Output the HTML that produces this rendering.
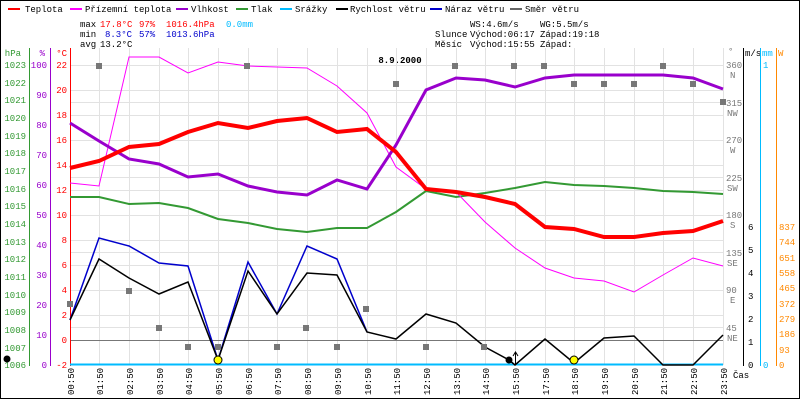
<!DOCTYPE html>
<html><head><meta charset="utf-8"><style>
html,body{margin:0;padding:0;background:#fff}
svg{display:block}
text{font-family:"Liberation Mono","DejaVu Sans Mono",monospace;font-size:9px}
</style></head><body>
<svg width="800" height="400" viewBox="0 0 800 400" xmlns="http://www.w3.org/2000/svg">
<rect x="0.5" y="0.5" width="799" height="398" fill="#fff" stroke="#000"/>
<!-- legend -->
<g>
<line x1="8" y1="9" x2="20" y2="9" stroke="#f00" stroke-width="2"/><text x="25" y="12" font-size="10">Teplota</text>
<line x1="70" y1="9" x2="82" y2="9" stroke="#f0f" stroke-width="2"/><text x="85" y="12" font-size="10">Přízemní teplota</text>
<line x1="176" y1="9" x2="188" y2="9" stroke="#90c" stroke-width="2"/><text x="191" y="12" font-size="10">Vlhkost</text>
<line x1="236" y1="9" x2="248" y2="9" stroke="#393" stroke-width="2"/><text x="251" y="12" font-size="10">Tlak</text>
<line x1="280" y1="9" x2="292" y2="9" stroke="#0bf" stroke-width="2"/><text x="295" y="12" font-size="10">Srážky</text>
<line x1="336" y1="9" x2="348" y2="9" stroke="#000" stroke-width="2"/><text x="350" y="12" font-size="10">Rychlost větru</text>
<line x1="430" y1="9" x2="442" y2="9" stroke="#00c" stroke-width="2"/><text x="445" y="12" font-size="10">Náraz větru</text>
<line x1="510" y1="9" x2="522" y2="9" stroke="#666" stroke-width="2"/><text x="525" y="12" font-size="10">Směr větru</text>
</g>
<text x="80" y="27">max</text><text x="100" y="27" fill="#f00">17.8°C</text><text x="139" y="27" fill="#f00">97%</text><text x="166" y="27" fill="#f00">1016.4hPa</text><text x="226" y="27" fill="#0bf">0.0mm</text>
<text x="80" y="37">min</text><text x="105" y="37" fill="#00c">8.3°C</text><text x="139" y="37" fill="#00c">57%</text><text x="166" y="37" fill="#00c">1013.6hPa</text>
<text x="80" y="47">avg</text><text x="100" y="47">13.2°C</text>
<text x="470" y="27">WS:4.6m/s</text><text x="540" y="27">WG:5.5m/s</text>
<text x="435" y="37">Slunce</text><text x="470" y="37">Východ:06:17</text><text x="540" y="37">Západ:19:18</text>
<text x="435" y="47">Měsíc</text><text x="470" y="47">Východ:15:55</text><text x="540" y="47">Západ:</text>
<text x="400" y="63" font-size="14" font-weight="bold" text-anchor="middle">8.9.2000</text>
<!-- grid -->
<g stroke="#e2e2e2" stroke-width="1">
<path d="M70 65.5H723M70 90.5H723M70 115.5H723M70 140.5H723M70 165.5H723M70 190.5H723M70 215.5H723M70 240.5H723M70 265.5H723M70 290.5H723M70 315.5H723M70 102.5H723M70 177.5H723M70 252.5H723M70 327.5H723"/>
<path d="M99.5 48V365M129.5 48V365M159.5 48V365M188.5 48V365M218.5 48V365M248.5 48V365M277.5 48V365M307.5 48V365M337.5 48V365M367.5 48V365M396.5 48V365M426.5 48V365M456.5 48V365M485.5 48V365M515.5 48V365M545.5 48V365M574.5 48V365M604.5 48V365M634.5 48V365M663.5 48V365M693.5 48V365M723.5 48V365"/>
</g>
<line x1="70" y1="340.5" x2="723" y2="340.5" stroke="#777"/>
<!-- left axes -->
<g>
<line x1="29.5" y1="48" x2="29.5" y2="366" stroke="#393"/>
<g fill="#393" text-anchor="end">
<text x="26" y="68">1023</text><text x="26" y="86">1022</text><text x="26" y="103">1021</text><text x="26" y="121">1020</text><text x="26" y="139">1019</text><text x="26" y="156">1018</text><text x="26" y="174">1017</text><text x="26" y="192">1016</text><text x="26" y="209">1015</text><text x="26" y="227">1014</text><text x="26" y="245">1013</text><text x="26" y="262">1012</text><text x="26" y="280">1011</text><text x="26" y="298">1010</text><text x="26" y="315">1009</text><text x="26" y="333">1008</text><text x="26" y="351">1007</text><text x="26" y="368">1006</text>
<text x="21" y="56">hPa</text></g>
<line x1="50.5" y1="48" x2="50.5" y2="366" stroke="#90c"/>
<g fill="#90c" text-anchor="end">
<text x="47" y="68">100</text><text x="47" y="98">90</text><text x="47" y="128">80</text><text x="47" y="158">70</text><text x="47" y="188">60</text><text x="47" y="218">50</text><text x="47" y="248">40</text><text x="47" y="278">30</text><text x="47" y="308">20</text><text x="47" y="338">10</text><text x="47" y="368">0</text><text x="45" y="56">%</text></g>
<line x1="70.5" y1="48" x2="70.5" y2="366" stroke="#f00"/>
<g fill="#f00" text-anchor="end">
<text x="67" y="68">22</text><text x="67" y="93">20</text><text x="67" y="118">18</text><text x="67" y="143">16</text><text x="67" y="168">14</text><text x="67" y="193">12</text><text x="67" y="218">10</text><text x="67" y="243">8</text><text x="67" y="268">6</text><text x="67" y="293">4</text><text x="67" y="318">2</text><text x="67" y="343">0</text><text x="67" y="368">-2</text><text x="67" y="56">°C</text></g>
</g>
<!-- right axes -->
<g fill="#777">
<text x="728" y="54">°</text>
<text x="726" y="68">360</text><text x="730" y="78">N</text>
<text x="726" y="106">315</text><text x="727" y="116">NW</text>
<text x="726" y="143">270</text><text x="730" y="153">W</text>
<text x="726" y="181">225</text><text x="727" y="191">SW</text>
<text x="726" y="218">180</text><text x="730" y="228">S</text>
<text x="726" y="256">135</text><text x="727" y="266">SE</text>
<text x="726" y="293">90</text><text x="730" y="303">E</text>
<text x="726" y="331">45</text><text x="727" y="341">NE</text>
</g>
<line x1="743.5" y1="48" x2="743.5" y2="366" stroke="#000"/>
<g><text x="745" y="56" font-size="8">m/s</text>
<text x="748" y="230">6</text><text x="748" y="253">5</text><text x="748" y="276">4</text><text x="748" y="299">3</text><text x="748" y="322">2</text><text x="748" y="345">1</text><text x="748" y="368">0</text></g>
<line x1="760.5" y1="48" x2="760.5" y2="366" stroke="#0bf"/>
<g fill="#0bf"><text x="762" y="56" font-size="8">mm</text><text x="763" y="68">1</text><text x="763" y="368">0</text></g>
<line x1="776.5" y1="48" x2="776.5" y2="366" stroke="#f80"/>
<g fill="#f80"><text x="778" y="56">W</text>
<text x="779" y="230">837</text><text x="779" y="245">744</text><text x="779" y="261">651</text><text x="779" y="276">558</text><text x="779" y="291">465</text><text x="779" y="307">372</text><text x="779" y="322">279</text><text x="779" y="337">186</text><text x="779" y="353">93</text><text x="779" y="368">0</text></g>
<!-- rain baseline -->
<line x1="70" y1="364.5" x2="723" y2="364.5" stroke="#0bf" stroke-width="2"/>
<!-- series -->
<polyline fill="none" stroke="#393" stroke-width="2" points="70,197 99,197 129,204 159,203 188,208 218,219 248,223 277,229 307,232 337,228 367,228 396,212 426,191 456,197 485,193 515,188 545,182 574,185 604,186 634,188 663,191 693,192 723,194"/>
<polyline fill="none" stroke="#f0f" stroke-width="1" points="70,183 99,186 129,57 159,57 188,73 218,62 248,66 277,67 307,68 337,86 367,113 396,167 426,189 456,192 485,222 515,248 545,268 574,278 604,281 634,292 663,275 693,258 723,266"/>
<polyline fill="none" stroke="#90c" stroke-width="3" points="70,123 99,141 129,159 159,164 188,177 218,174 248,186 277,192 307,195 337,180 367,189 396,145 426,90 456,78 485,80 515,87 545,78 574,75 604,75 634,75 663,75 693,78 723,89"/>
<polyline fill="none" stroke="#f00" stroke-width="4" points="70,168 99,161 129,147 159,144 188,132 218,123 248,128 277,121 307,118 337,132 367,129 396,152 426,189 456,192 485,197 515,204 545,227 574,229 604,237 634,237 663,233 693,231 723,221"/>
<polyline fill="none" stroke="#00c" stroke-width="1.5" points="70,320 99,238 129,246 159,263 188,266 218,360 248,262 277,314 307,246 337,259 367,332"/>
<polyline fill="none" stroke="#000" stroke-width="1.5" points="70,320 99,259 129,278 159,294 188,282 218,360 248,271 277,314 307,273 337,275 367,332 396,339 426,314 456,323 485,347 509,360 515,365 545,339 574,363 604,338 634,336 663,365 693,365 723,335"/>
<g fill="#777">
<rect x="96" y="63" width="6" height="6"/><rect x="126" y="288" width="6" height="6"/><rect x="156" y="325" width="6" height="6"/><rect x="185" y="344" width="6" height="6"/><rect x="215" y="344" width="6" height="6"/><rect x="244" y="63" width="6" height="6"/><rect x="274" y="344" width="6" height="6"/><rect x="303" y="325" width="6" height="6"/><rect x="334" y="344" width="6" height="6"/><rect x="363" y="306" width="6" height="6"/><rect x="393" y="81" width="6" height="6"/><rect x="423" y="344" width="6" height="6"/><rect x="452" y="63" width="6" height="6"/><rect x="481" y="344" width="6" height="6"/><rect x="511" y="63" width="6" height="6"/><rect x="541" y="63" width="6" height="6"/><rect x="571" y="81" width="6" height="6"/><rect x="601" y="81" width="6" height="6"/><rect x="631" y="81" width="6" height="6"/><rect x="660" y="63" width="6" height="6"/><rect x="690" y="81" width="6" height="6"/><rect x="720" y="99" width="6" height="6"/><rect x="67" y="301" width="6" height="6"/>
</g>
<circle cx="218" cy="360" r="4" fill="#ff0" stroke="#000"/>
<circle cx="574" cy="360" r="4" fill="#ff0" stroke="#000"/>
<circle cx="509" cy="360" r="3.5" fill="#000"/>
<circle cx="7" cy="359" r="3.5" fill="#000"/>
<path d="M515.5 364V353M513 356L515.5 352L518 356" stroke="#000" fill="none"/>
<!-- x labels -->
<g fill="#000">
<g transform="translate(74,395) rotate(-90)"><text>00:50</text></g>
<g transform="translate(103,395) rotate(-90)"><text>01:50</text></g>
<g transform="translate(133,395) rotate(-90)"><text>02:50</text></g>
<g transform="translate(163,395) rotate(-90)"><text>03:50</text></g>
<g transform="translate(192,395) rotate(-90)"><text>04:50</text></g>
<g transform="translate(222,395) rotate(-90)"><text>05:50</text></g>
<g transform="translate(252,395) rotate(-90)"><text>06:50</text></g>
<g transform="translate(281,395) rotate(-90)"><text>07:50</text></g>
<g transform="translate(311,395) rotate(-90)"><text>08:50</text></g>
<g transform="translate(341,395) rotate(-90)"><text>09:50</text></g>
<g transform="translate(371,395) rotate(-90)"><text>10:50</text></g>
<g transform="translate(400,395) rotate(-90)"><text>11:50</text></g>
<g transform="translate(430,395) rotate(-90)"><text>12:50</text></g>
<g transform="translate(460,395) rotate(-90)"><text>13:50</text></g>
<g transform="translate(489,395) rotate(-90)"><text>14:50</text></g>
<g transform="translate(519,395) rotate(-90)"><text>15:50</text></g>
<g transform="translate(549,395) rotate(-90)"><text>17:50</text></g>
<g transform="translate(578,395) rotate(-90)"><text>18:50</text></g>
<g transform="translate(608,395) rotate(-90)"><text>19:50</text></g>
<g transform="translate(638,395) rotate(-90)"><text>20:50</text></g>
<g transform="translate(667,395) rotate(-90)"><text>21:50</text></g>
<g transform="translate(697,395) rotate(-90)"><text>22:50</text></g>
<g transform="translate(727,395) rotate(-90)"><text>23:50</text></g>
</g>
<text x="733" y="378">Čas</text>
</svg>
</body></html>
